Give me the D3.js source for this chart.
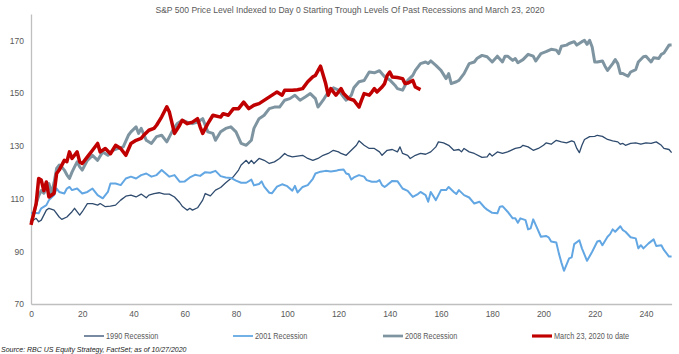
<!DOCTYPE html>
<html>
<head>
<meta charset="utf-8">
<script src="https://cdn.jsdelivr.net/npm/d3@7"></script>
<style>
  body { margin: 0; background: #fff; }
  text { font-family: "Liberation Sans", Arial, sans-serif; fill: #595959; }
</style>
</head>
<body>
<script>
// [trading day, index level]
const march2020 = [[0,100],[2,108],[3,117.6],[4,117],[5,113],[6,116.3],[7,110.6],[9,112],[10,119.5],[11,120.8],[13,124.5],[14,124],[15,127.7],[16,125.2],[18,127.7],[19,123.9],[20,123.3],[22,125.8],[24,128.3],[26,130.9],[27,127.7],[29,129],[31,127],[33,130.2],[35,129],[37,126.4],[39,130.9],[41,132.1],[43,132.8],[44,134],[46,135.9],[48,136.6],[49,137.8],[51,141],[53,144.8],[54,142.8],[56,134.7],[58,137.8],[59,139.7],[61,138.4],[63,139],[65,140.3],[66,137.2],[67,134.7],[69,138.4],[71,141.6],[74,140.9],[75,142.2],[77,141.6],[79,144.1],[81,144.1],[83,146.6],[85,144.1],[87,145.4],[89,146],[92,147.9],[95,149.8],[96,150.4],[98,149.2],[99,151.1],[102,151.1],[104,151.3],[106,151.7],[108,154.3],[110,156.2],[111,156.7],[113,160.2],[115,153.6],[116,149.2],[117,151.7],[119,149.2],[121,151.7],[122,149.8],[124,147.9],[126,147.3],[128,144.7],[129,147.3],[130,149.8],[132,149.2],[133,150.4],[134,151.7],[135,150.4],[137,152.3],[138,153.6],[139,156.7],[140,158],[141,156.1],[143,155.9],[145,155.5],[146,153.6],[147,153.8],[149,154.8],[150,152.3],[152,151.3]]

const rec2008 = [[0,101],[1,104],[2,108],[3,111],[4,113],[5,112],[6,114],[7,115.7],[8,112],[9,116],[10,121.4],[11,122.7],[12,122],[13,120.8],[14,119],[15,117.6],[16,120],[17,122],[18,123.9],[19,122],[20,120.8],[22,124.5],[24,126.4],[26,124.5],[28,127.7],[30,126.4],[32,128.3],[34,129],[36,129.6],[38,134],[39,135.3],[41,137.2],[42,134.7],[43,136.6],[45,132.1],[47,130.9],[49,133.5],[51,134],[53,131.5],[55,135.3],[57,138.4],[59,139.7],[61,139],[63,138.4],[65,139],[67,140.3],[69,135.3],[71,134.7],[72,132.1],[74,135.3],[76,136.6],[78,137.2],[80,135.3],[82,130.9],[84,130.2],[86,132.1],[87,136.6],[89,140.3],[91,141.6],[93,144.1],[95,144.7],[97,144.7],[99,147.3],[101,147.9],[103,149.2],[105,147.3],[107,148.5],[109,149.8],[111,147.9],[112,144.7],[114,147.3],[116,150.4],[118,152],[120,151.1],[122,148.5],[123,147.3],[125,149.2],[126,152],[128,154.3],[130,154.8],[132,158],[134,157.7],[136,158.5],[138,156.2],[140,155],[142,153],[143,151.7],[145,151.1],[147,154.8],[149,156.7],[150,158.6],[152,161.2],[154,161.8],[155,161.2],[156,162.2],[158,160.5],[160,158.6],[162,155.5],[163,157.4],[164,153.6],[166,154.3],[167,154.8],[169,157.4],[171,161.2],[173,161.8],[174,163.1],[176,164.3],[178,163.8],[180,161.8],[182,164],[184,161.8],[185,164],[186,164],[188,162.4],[189,163.1],[190,161.5],[192,162.7],[194,164.7],[196,164],[197,162.2],[199,165],[201,165.7],[203,166.6],[205,166.3],[206,165],[207,167.8],[209,168.2],[210,168.8],[212,169.5],[213,168.2],[215,169.5],[216,170],[217,168.5],[218,170],[219,167.5],[220,161.8],[221,161.8],[223,162.2],[224,160.2],[225,158.6],[227,161.2],[228,162.7],[229,161.2],[230,157.4],[231,157.4],[233,156.4],[234,158],[236,158.9],[237,161.8],[239,163.8],[240,164],[242,161.8],[243,163.4],[245,163.1],[246,164.7],[247,165.2],[249,168.2],[250,168.2]]

const rec1990 = [[0,101.2],[2,102.5],[3,101.2],[4,101.8],[6,105.6],[7,106.3],[9,105.6],[11,103],[12,102.1],[14,103],[16,105],[17,106.3],[19,103.7],[20,105],[22,108.1],[24,108.1],[26,107.5],[27,108.1],[29,106.9],[31,107.1],[33,107.5],[35,109.4],[37,110.9],[39,111.3],[41,110.6],[43,111.7],[45,110.3],[46,111.3],[48,111.9],[50,112.2],[52,111.7],[54,111.7],[56,110.6],[58,108.5],[59,107.1],[61,105.6],[62,106.3],[63,105.6],[65,106.5],[67,109.4],[68,111.9],[70,111],[72,113.2],[74,114.2],[76,116],[78,117.6],[79,118.3],[81,120.8],[82,122.7],[84,124.5],[85,123.3],[86,124.5],[87,123.3],[89,125.2],[91,124.5],[93,123.3],[95,123.9],[97,125.2],[99,127.1],[100,126.4],[102,125.8],[104,126.1],[106,126.4],[108,125.2],[110,124.5],[112,125.2],[114,126.4],[116,127.1],[118,128.3],[120,127.7],[121,127.1],[123,126.4],[125,128.3],[127,130.2],[128,131.9],[130,130.2],[132,129],[134,129],[136,127.7],[137,126.4],[139,128.3],[141,128.6],[143,127.7],[144,129.6],[145,127.1],[147,126.4],[148,125.2],[150,126.4],[152,127.1],[154,126.8],[156,127.7],[158,129.6],[159,131.5],[161,131.1],[163,130.2],[165,128.3],[167,128.6],[168,127.7],[169,129],[171,127.7],[173,127.1],[176,125.6],[178,125.8],[179,127.1],[180,126.1],[182,127.7],[184,127.1],[186,127.7],[189,129],[191,129.4],[192,130.2],[194,129.6],[196,128.3],[198,129],[200,130.2],[201,131.1],[203,130.6],[205,132.1],[207,131.5],[209,131.1],[211,131.9],[212,131.5],[213,129],[214,127.4],[215,130.2],[216,132.4],[218,133.5],[220,133.6],[221,134],[223,133.6],[225,132.4],[227,131.9],[229,131.5],[230,130.6],[231,130.9],[232,130.2],[234,130.9],[236,131.1],[238,130.6],[240,131.1],[242,130.9],[244,131.5],[246,130.2],[247,129],[249,128.6],[250,127.4]]

const rec2001 = [[0,104.4],[1,104.6],[3,104.4],[4,106.3],[6,107.5],[7,109.4],[9,111.3],[10,113.8],[11,112.5],[13,111.9],[14,113.8],[15,114.4],[16,113.2],[18,113.8],[20,111.9],[22,112.5],[24,113.8],[26,111.3],[28,110.1],[30,112.5],[31,115.7],[33,115.7],[35,115.1],[37,117.6],[39,118.3],[41,117.6],[43,118.9],[45,119.5],[47,118.3],[49,118.9],[51,120.8],[52,120],[54,118.3],[56,118.9],[58,116.4],[60,116.5],[62,118],[64,119],[66,118.6],[68,120],[70,119.8],[72,120.5],[74,118.5],[76,118],[78,117.8],[80,116.8],[82,116],[84,116],[86,117.2],[87,115],[89,115.5],[90,116.5],[91,114.5],[93,112.2],[94,112],[96,114.5],[98,115.4],[100,114.7],[102,113],[103,114.8],[104,112.3],[106,114.4],[108,115.1],[110,117.5],[111,119.5],[113,120.2],[115,120.5],[117,120.3],[119,120.5],[120,120.8],[122,121],[123,119.5],[124,119.2],[125,117.2],[126,118],[128,118.9],[130,118.3],[131,117],[133,116.4],[135,116.4],[136,117],[137,115.1],[138,114.4],[139,115.1],[141,116.7],[143,116.6],[145,113.8],[147,112.9],[149,110.6],[151,111.7],[152,112.5],[154,111.3],[155,108.8],[156,112.5],[158,109.4],[159,111.3],[160,113.2],[162,113.2],[163,114.4],[165,112.5],[166,111.7],[167,113.2],[169,111.3],[171,110.4],[173,108.1],[175,108.8],[177,106.6],[178,105.8],[180,104.6],[182,104.4],[183,106.9],[184,107.1],[186,105],[188,102.5],[189,102.5],[190,100.8],[191,102.5],[193,101.8],[194,98.3],[195,98.7],[196,102.1],[197,99.9],[199,95.5],[201,95.8],[202,95.3],[203,93.7],[205,93.3],[206,89.2],[207,85.7],[208,82.6],[210,87.3],[211,87.7],[212,92.7],[214,94.2],[215,91.1],[217,86.4],[219,89.8],[221,93.7],[222,94],[223,92.3],[225,95.5],[226,96.5],[227,98.3],[228,97.4],[230,99.5],[231,98],[232,97.4],[234,95.3],[236,94.9],[237,91.1],[238,92.3],[239,91.1],[241,93],[243,94.5],[244,92],[246,92.3],[247,90.5],[249,88],[250,88]]

const yTicks = [70, 90, 110, 130, 150, 170]
const xTicks = d3.range(0, 241, 20)

const seriesNames = ['1990 Recession', '2001 Recession', '2008 Recession', 'March 23, 2020 to date']
const seriesData = [rec1990, rec2001, rec2008, march2020]
const colors = ['#2F4B6E', '#62A7E3', '#7E95A1', '#C00000']
const widths = [1.3, 2, 3, 3.5]

const svg = d3.select('body').append('svg').attr('width', 679).attr('height', 354)

const x = d3.scaleLinear().domain([0, 250]).range([31, 671.6])
const y = d3.scaleLinear().domain([70, 180]).range([304, 14])

// the original uses a narrow font, so squeeze the text a bit
const squeeze = (sel, k) => sel.each(function () {
	const w = this.getComputedTextLength()
	d3.select(this).attr('textLength', w * k).attr('lengthAdjust', 'spacingAndGlyphs')
})

svg.append('text')
	.attr('x', 350).attr('y', 13)
	.attr('text-anchor', 'middle')
	.style('font-size', '9.5px')
	.text('S&P 500 Price Level Indexed to Day 0 Starting Trough Levels Of Past Recessions and March 23, 2020')
	.call(squeeze, 0.9)

// axes - only the lines and labels, no tick marks
const xAxis = svg.append('g').attr('transform', 'translate(0,304)')
	.call(d3.axisBottom(x).tickValues(xTicks).tickSize(0).tickPadding(7))
xAxis.select('.domain').attr('stroke', '#BFBFBF').attr('stroke-width', 1.3)
xAxis.selectAll('text').style('font-size', '8.5px').style('fill', '#595959').attr('font-family', null)

const yAxis = svg.append('g').attr('transform', 'translate(31,0)')
	.call(d3.axisLeft(y).tickValues(yTicks).tickSize(0).tickPadding(7))
yAxis.select('.domain').attr('stroke', '#BFBFBF').attr('stroke-width', 1.3)
yAxis.selectAll('text').style('font-size', '8.5px').style('fill', '#595959').attr('font-family', null)

const line = d3.line()
	.x((d) => x(d[0]))
	.y((d) => y(d[1]))

svg.selectAll('path.series')
	.data(seriesData)
	.enter().append('path')
		.attr('class', 'series')
		.attr('d', line)
		.attr('fill', 'none')
		.attr('stroke', (d, i) => colors[i])
		.attr('stroke-width', (d, i) => widths[i])
		.attr('stroke-linejoin', 'round')

// legend
const legendX = [84, 233, 383, 532]
const legend = svg.selectAll('g.legend')
	.data(seriesNames)
	.enter().append('g')
		.attr('class', 'legend')
		.attr('transform', (d, i) => 'translate(' + legendX[i] + ',336)')

legend.append('line')
	.attr('x1', 0).attr('x2', 20)
	.attr('stroke', (d, i) => colors[i])
	.attr('stroke-width', (d, i) => Math.max(widths[i] * 0.9, 1.3))

legend.append('text')
	.attr('x', 22).attr('y', 3)
	.style('font-size', '8.5px')
	.text((d) => d)
	.call(squeeze, 0.86)

svg.append('text')
	.attr('x', 1).attr('y', 352)
	.style('font-size', '7px')
	.style('font-style', 'italic')
	.style('fill', '#222')
	.text('Source: RBC US Equity Strategy, FactSet; as of 10/27/2020')
</script>
</body>
</html>
